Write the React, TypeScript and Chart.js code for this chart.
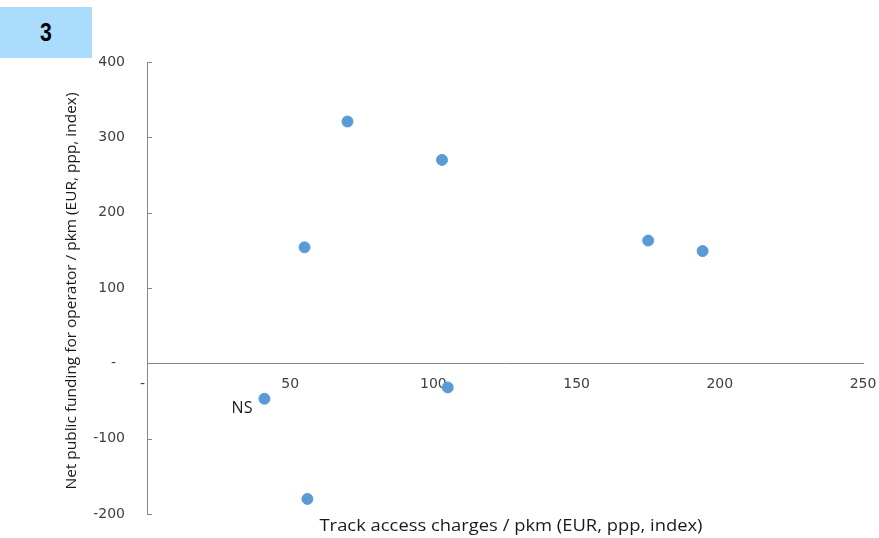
import React, { useEffect, useRef } from "react";
import { Chart, registerables } from "chart.js";

Chart.register(...registerables);

const xValues = [70, 103, 55, 175, 194, 105, 41, 56];
const yValues = [321, 270, 154, 163, 149, -32, -47, -180];
const pointLabels = ["", "", "", "", "", "", "NS", ""];
const xTicks = [0, 50, 100, 150, 200, 250];
const yTicks = [-200, -100, 0, 100, 200, 300, 400];
const xTitle = "Track access charges / pkm (EUR, ppp, index)";
const yTitle = "Net public funding for operator / pkm (EUR, ppp, index)";
const badge = "3";

const FONT = "'Open Sans', 'Noto Sans', sans-serif";
const TICKFONT = "'DejaVu Sans', sans-serif";

function fitText(ctx: any, text: string, x: number, y: number, width: number) {
  const w = ctx.measureText(text).width;
  ctx.save();
  ctx.translate(x, y);
  ctx.scale(width / w, 1);
  ctx.fillText(text, 0, 0);
  ctx.restore();
}

const zeroPad = (s: any) => {
  s.paddingLeft = 0;
  s.paddingRight = 0;
  s.paddingTop = 0;
  s.paddingBottom = 0;
};

const overlay = {
  id: "overlay",
  afterDraw(chart: any) {
    const { ctx, chartArea, scales } = chart;
    const xs = scales.x;
    const ys = scales.y;
    ctx.save();
    // inner y ticks
    ctx.strokeStyle = "#868686";
    ctx.lineWidth = 1;
    yTicks.forEach((v) => {
      const py = Math.round(ys.getPixelForValue(v)) + 0.5;
      ctx.beginPath();
      ctx.moveTo(chartArea.left, py);
      ctx.lineTo(chartArea.left + 5, py);
      ctx.stroke();
    });
    // point labels
    ctx.fillStyle = "#1a1a1a";
    ctx.font = "16px " + FONT;
    ctx.textAlign = "right";
    ctx.textBaseline = "middle";
    pointLabels.forEach((lbl, i) => {
      if (!lbl) return;
      const px = xs.getPixelForValue(xValues[i]);
      const py = ys.getPixelForValue(yValues[i]);
      ctx.fillText(lbl, px - 12, py + 10);
    });
    // axis titles
    ctx.fillStyle = "#1a1a1a";
    ctx.textAlign = "center";
    ctx.textBaseline = "middle";
    ctx.font = "15.5px " + FONT;
    fitText(ctx, xTitle, (chartArea.left + chartArea.right) / 2 + 6, chartArea.bottom + 13, 383);
    ctx.translate(72, (chartArea.top + chartArea.bottom) / 2 + 3);
    ctx.rotate(-Math.PI / 2);
    ctx.font = "15px " + FONT;
    fitText(ctx, yTitle, 0, 0, 397);
    ctx.restore();
  },
};

function App() {
  const ref = useRef<HTMLCanvasElement>(null);
  useEffect(() => {
    if (!ref.current) return;
    const chart = new Chart(ref.current, {
      type: "scatter",
      data: {
        datasets: [
          {
            data: xValues.map((x, i) => ({ x, y: yValues[i] })),
            backgroundColor: "#5b9bd5",
            borderColor: "#5b9bd5",
            pointRadius: 5.5,
            pointHoverRadius: 5.5,
          },
        ],
      },
      options: {
        responsive: false,
        animation: false,
        layout: { padding: { left: 0, top: 62, right: 16, bottom: 24 } },
        plugins: { legend: { display: false }, tooltip: { enabled: false } },
        scales: {
          x: {
            type: "linear",
            position: { y: 0 } as any,
            min: 0,
            max: 250,
            afterBuildTicks: (s: any) => {
              s.ticks = xTicks.map((v) => ({ value: v }));
            },
            afterFit: zeroPad,
            grid: { display: false, drawOnChartArea: false, drawTicks: true, tickLength: 5, color: "#868686" },
            border: { display: true, color: "#868686", width: 1 },
            ticks: {
              color: "#404040",
              font: { size: 14, family: TICKFONT },
              padding: 8,
              maxRotation: 0,
              callback: (v: any) => (v === 0 ? "-  " : String(v)),
            },
          },
          y: {
            type: "linear",
            position: "left",
            min: -200,
            max: 400,
            afterBuildTicks: (s: any) => {
              s.ticks = yTicks.map((v) => ({ value: v }));
            },
            afterFit: (s: any) => {
              s.width = 147;
              zeroPad(s);
            },
            grid: { display: false, drawTicks: false },
            border: { display: true, color: "#868686", width: 1 },
            ticks: {
              color: "#404040",
              font: { size: 14, family: TICKFONT },
              padding: 22,
              callback: (v: any) => (v === 0 ? "-  " : String(v)),
            },
          },
        },
      },
      plugins: [overlay],
    });
    return () => chart.destroy();
  }, []);

  return (
    <div style={{ position: "absolute", left: 0, top: 0, width: 879, height: 538, background: "#fff" }}>
      <canvas ref={ref} width={879} height={538} style={{ position: "absolute", left: 0, top: 0 }} />
      <div
        style={{
          position: "absolute",
          left: 0,
          top: 7,
          width: 92,
          height: 51,
          background: "#a9dcfd",
          display: "flex",
          alignItems: "center",
          justifyContent: "center",
        }}
      >
        <span
          style={{
            fontFamily: "'Liberation Sans Narrow', 'Liberation Sans', Arial, sans-serif",
            fontWeight: "bold",
            fontSize: 25,
            color: "#000",
            display: "inline-block",
            transform: "scaleX(0.85)",
          }}
        >
          {badge}
        </span>
      </div>
    </div>
  );
}

export default App;
